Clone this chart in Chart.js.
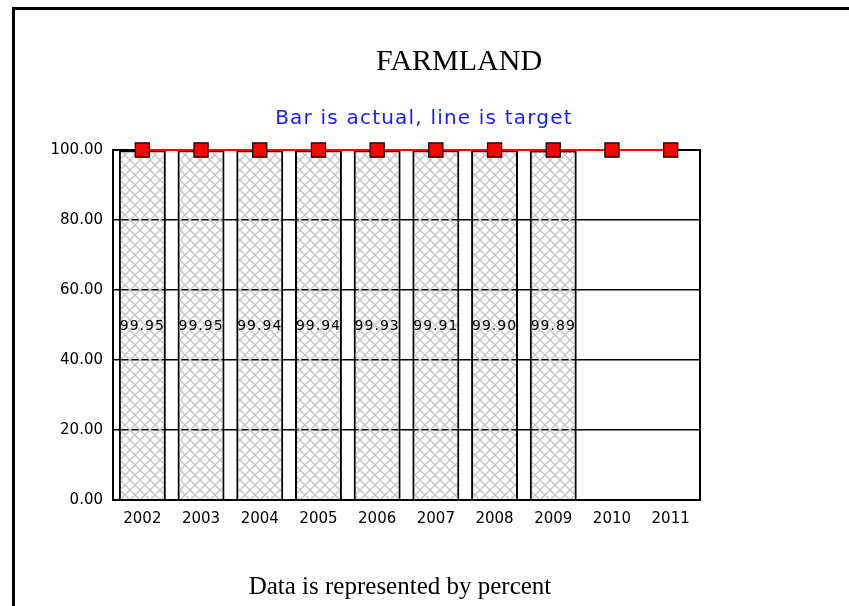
<!DOCTYPE html>
<html>
<head>
<meta charset="utf-8">
<script src="https://cdn.jsdelivr.net/npm/chart.js@4/dist/chart.umd.min.js"></script>
<style>
  html, body { margin: 0; padding: 0; background: #fff; width: 849px; height: 606px; overflow: hidden; }
  #wrap { position: relative; width: 849px; height: 606px; }
  #frame { position: absolute; left: 12px; top: 7px; width: 900px; height: 700px; border: 3px solid #000; box-sizing: border-box; }
  canvas { position: absolute; left: 0; top: 0; }
  .txt { position: absolute; width: 600px; text-align: center; line-height: 1; white-space: nowrap; }
  #title { left: 159px; top: 43px; font: 30px "Liberation Serif", "Times New Roman", serif; color: #000; }
  #subtitle { left: 124px; top: 105px; font: 20px "DejaVu Sans", sans-serif; color: #1a1aff; letter-spacing: 1.2px; }
  #footer { left: 100px; top: 572px; font: 25px "Liberation Serif", "Times New Roman", serif; color: #000; }
</style>
</head>
<body>
<div id="wrap">
  <div id="frame"></div>
  <canvas id="c" width="849" height="606"></canvas>
  <div class="txt" id="title">FARMLAND</div>
  <div class="txt" id="subtitle">Bar is actual, line is target</div>
  <div class="txt" id="footer">Data is represented by percent</div>
</div>
<script>
const years = ['2002','2003','2004','2005','2006','2007','2008','2009','2010','2011'];
const actual = [99.95, 99.95, 99.94, 99.94, 99.93, 99.91, 99.90, 99.89, null, null];
const target = [100, 100, 100, 100, 100, 100, 100, 100, 100, 100];
const yTicks = [0, 20, 40, 60, 80, 100];

// hatch pattern for bars
const pc = document.createElement('canvas');
pc.width = 10; pc.height = 10;
const px = pc.getContext('2d');
px.strokeStyle = '#c4c4c4';
px.lineWidth = 1.4;
px.beginPath();
px.moveTo(0, 0); px.lineTo(10, 10);
px.moveTo(10, 0); px.lineTo(0, 10);
px.stroke();
const ctx = document.getElementById('c').getContext('2d');
const hatch = ctx.createPattern(pc, 'repeat');

const framePlugin = {
  id: 'frame',
  beforeDatasetsDraw(chart) {
    const a = chart.chartArea, c = chart.ctx;
    c.save();
    c.strokeStyle = '#000';
    c.lineWidth = 2;
    c.beginPath();
    c.moveTo(a.left, a.top); c.lineTo(a.right, a.top); c.lineTo(a.right, a.bottom);
    c.stroke();
    c.restore();
  }
};

const labelPlugin = {
  id: 'barLabels',
  afterDatasetsDraw(chart) {
    const meta = chart.getDatasetMeta(1);
    const c = chart.ctx;
    c.save();
    c.font = '14px "DejaVu Sans", sans-serif';
    c.fillStyle = '#000';
    c.textAlign = 'center';
    c.textBaseline = 'middle';
    try { c.letterSpacing = '1px'; } catch (e) {}
    meta.data.forEach((bar, i) => {
      const v = actual[i];
      if (v === null || v === undefined) return;
      c.fillText(v.toFixed(2), bar.x, (bar.y + bar.base) / 2 + 2);
    });
    c.restore();
  }
};

new Chart(ctx, {
  data: {
    labels: years,
    datasets: [
      {
        type: 'line',
        label: 'Target',
        data: target,
        borderColor: '#ff0000',
        borderWidth: 2,
        pointStyle: 'rect',
        pointRadius: 10,
        pointBackgroundColor: '#ff0000',
        pointBorderColor: '#000',
        pointBorderWidth: 1.2,
        order: 0,
        clip: false
      },
      {
        type: 'bar',
        label: 'Actual',
        data: actual,
        backgroundColor: hatch,
        borderColor: '#000',
        borderWidth: 2,
        barPercentage: 0.8,
        categoryPercentage: 1.0,
        order: 1
      }
    ]
  },
  options: {
    responsive: false,
    animation: false,
    layout: { padding: { left: 0, top: 150, right: 149, bottom: 76 } },
    plugins: { legend: { display: false }, tooltip: { enabled: false }, title: { display: false } },
    scales: {
      x: {
        grid: { display: false, drawTicks: false },
        border: { display: true, color: '#000', width: 2 },
        ticks: { color: '#000', font: { family: '"DejaVu Sans", sans-serif', size: 15 }, padding: 10, maxRotation: 0 },
        afterFit(s) { s.height = 30; }
      },
      y: {
        min: 0, max: 100,
        afterBuildTicks(s) { s.ticks = yTicks.map(v => ({ value: v })); },
        grid: { color: '#000', lineWidth: 1.6, drawTicks: false },
        border: { display: true, color: '#000', width: 2 },
        ticks: { color: '#000', font: { family: '"DejaVu Sans", sans-serif', size: 15 }, padding: 10,
                 callback: v => Number(v).toFixed(2) },
        afterFit(s) { s.width = 113; }
      }
    }
  },
  plugins: [framePlugin, labelPlugin]
});
</script>
</body>
</html>
